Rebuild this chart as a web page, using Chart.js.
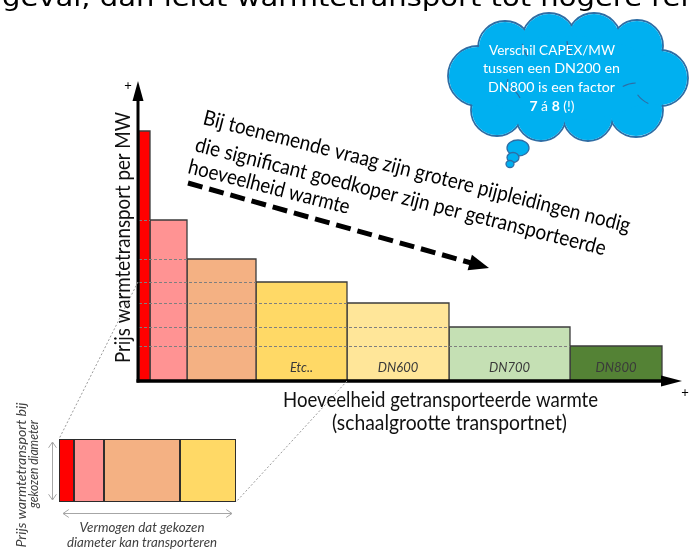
<!DOCTYPE html>
<html>
<head>
<meta charset="utf-8">
<script src="https://cdn.jsdelivr.net/npm/chart.js@4.4.1/dist/chart.umd.min.js"></script>
<style>
  html, body { margin: 0; padding: 0; background: #ffffff; }
  #wrap { position: relative; width: 689px; height: 551px; overflow: hidden; }
  #main { position: absolute; left: 0; top: 0; }
  #inset { position: absolute; left: 57px; top: 437px; }
</style>
</head>
<body>
<div id="wrap">
  <canvas id="main" width="689" height="551"></canvas>
  <canvas id="inset" width="181" height="67"></canvas>
</div>
<script>
// Capacity boundaries of each pipe class along the "amount of heat" axis (relative units)
const capacityEdges = [1, 12, 49, 118, 209, 311, 432, 524];
// Price of heat transport per MW for each pipe class (relative units)
const costPerMW = [250, 161, 122, 99, 78, 54, 35];
// Labels written inside the bars
const barLabels = ['', '', '', 'Etc..', 'DN600', 'DN700', 'DN800'];
const barColors = ['#ff0000', '#ff9393', '#f4b183', '#ffd966', '#ffe699', '#c5e0b4', '#548235'];

// Detail strip: capacity each chosen diameter can transport, at equal price height
const insetWidths = [15, 30, 76, 56];
const insetColors = ['#ff0000', '#ff9393', '#f4b183', '#ffd966'];

const X_MAX = 544;
const Y_MAX = 300;

const LATO = 'Lato, "Open Sans", sans-serif';

// draw text squeezed/stretched to a given width
function fitText(ctx, text, x, y, width, align) {
  const w = ctx.measureText(text).width;
  const s = width / w;
  ctx.save();
  ctx.translate(x, y);
  ctx.scale(s, 1);
  let ox = 0;
  if (align === 'center') ox = -w / 2;
  else if (align === 'right') ox = -w;
  ctx.textAlign = 'left';
  ctx.textBaseline = 'alphabetic';
  ctx.fillText(text, ox, 0);
  ctx.restore();
}

function rotatedText(ctx, text, x, y, angleDeg, width, align) {
  ctx.save();
  ctx.translate(x, y);
  ctx.rotate(angleDeg * Math.PI / 180);
  fitText(ctx, text, 0, 0, width, align);
  ctx.restore();
}

function arrowHead(ctx, tx, ty, ang, len, half) {
  ctx.beginPath();
  ctx.moveTo(tx, ty);
  ctx.lineTo(tx - len * Math.cos(ang) + half * Math.sin(ang), ty - len * Math.sin(ang) - half * Math.cos(ang));
  ctx.lineTo(tx - len * Math.cos(ang) - half * Math.sin(ang), ty - len * Math.sin(ang) + half * Math.cos(ang));
  ctx.closePath();
  ctx.fill();
}

function chevron(ctx, tx, ty, ang, size) {
  ctx.beginPath();
  ctx.moveTo(tx - size * Math.cos(ang - 0.6), ty - size * Math.sin(ang - 0.6));
  ctx.lineTo(tx, ty);
  ctx.lineTo(tx - size * Math.cos(ang + 0.6), ty - size * Math.sin(ang + 0.6));
  ctx.stroke();
}

// each price class as a closed block on the linear scales
const datasets = costPerMW.map((h, i) => ({
  data: [
    { x: capacityEdges[i], y: 0 },
    { x: capacityEdges[i], y: h },
    { x: capacityEdges[i + 1], y: h },
    { x: capacityEdges[i + 1], y: 0 }
  ],
  backgroundColor: barColors[i],
  borderColor: '#3c3c3c',
  borderWidth: 1.3,
  fill: 'origin',
  pointRadius: 0,
  tension: 0
}));

const decorations = {
  id: 'decorations',
  afterDatasetsDraw(chart) {
    const ctx = chart.ctx;
    const xs = chart.scales.x, ys = chart.scales.y;
    const x0 = xs.getPixelForValue(0), y0 = ys.getPixelForValue(0);

    // dotted level lines through the blocks
    ctx.save();
    ctx.strokeStyle = '#7f7f7f';
    ctx.lineWidth = 1;
    ctx.setLineDash([3, 2]);
    for (let i = 1; i < costPerMW.length; i++) {
      const y = Math.round(ys.getPixelForValue(costPerMW[i])) + 0.5;
      ctx.beginPath();
      ctx.moveTo(x0 + 1, y);
      ctx.lineTo(xs.getPixelForValue(capacityEdges[i]), y);
      ctx.stroke();
    }
    ctx.restore();

    // labels at the bottom of the blocks
    ctx.save();
    ctx.fillStyle = '#3a3a3a';
    ctx.font = 'italic 13px ' + LATO;
    ctx.textAlign = 'center';
    ctx.textBaseline = 'alphabetic';
    barLabels.forEach((t, i) => {
      if (!t) return;
      const cx = (xs.getPixelForValue(capacityEdges[i]) + xs.getPixelForValue(capacityEdges[i + 1])) / 2;
      ctx.fillText(t, cx, y0 - 9);
    });
    ctx.restore();

    // axes with arrow heads
    ctx.save();
    ctx.fillStyle = '#000';
    ctx.strokeStyle = '#000';
    ctx.lineWidth = 3;
    const yTop = ys.getPixelForValue(Y_MAX);
    const xEnd = xs.getPixelForValue(X_MAX);
    ctx.beginPath();
    ctx.moveTo(x0, y0 + 1.5);
    ctx.lineTo(x0, yTop + 16);
    ctx.stroke();
    arrowHead(ctx, x0, yTop, -Math.PI / 2, 20, 5.5);
    ctx.lineWidth = 3.5;
    ctx.beginPath();
    ctx.moveTo(x0 - 1.5, y0);
    ctx.lineTo(xEnd - 16, y0);
    ctx.stroke();
    arrowHead(ctx, xEnd, y0, 0, 21, 5.5);
    ctx.font = '13px ' + LATO;
    ctx.textAlign = 'center';
    ctx.textBaseline = 'alphabetic';
    ctx.fillText('+', x0 - 10, yTop + 9);
    ctx.fillText('+', xEnd + 3, y0 + 16);
    ctx.restore();

    // dotted guide lines towards the detail strip
    const ia = insetArea();
    ctx.save();
    ctx.strokeStyle = '#9a9a9a';
    ctx.lineWidth = 1;
    ctx.setLineDash([2, 2]);
    ctx.beginPath();
    ctx.moveTo(x0, ys.getPixelForValue(costPerMW[3]));
    ctx.lineTo(ia.left, ia.top);
    ctx.moveTo(xs.getPixelForValue(capacityEdges[4]), y0);
    ctx.lineTo(ia.right, ia.bottom);
    ctx.stroke();
    ctx.restore();
  },
  afterDraw(chart) {
    const ctx = chart.ctx;
    ctx.save();
    ctx.fillStyle = '#000';
    ctx.textBaseline = 'alphabetic';

    // heading sentence running above
    ctx.font = '24px "DejaVu Sans", sans-serif';
    {
      const head = 'geval, dan leidt warmtetransport tot hogere';
      const w = ctx.measureText(head).width;
      const s = 640 / w;
      ctx.save();
      ctx.translate(2, 6);
      ctx.scale(s, 1);
      ctx.textAlign = 'left';
      ctx.textBaseline = 'alphabetic';
      ctx.fillText(head + ' rendementen', 0, 0);
      ctx.restore();
    }

    // axis titles
    ctx.font = '21px ' + LATO;
    ctx.fillStyle = '#111';
    fitText(ctx, 'Hoeveelheid getransporteerde warmte', 440.5, 407, 315, 'center');
    fitText(ctx, '(schaalgrootte transportnet)', 449.5, 430, 235, 'center');
    rotatedText(ctx, 'Prijs warmtetransport per MW', 130, 237.5, -90, 251, 'center');

    // slanted explanation
    ctx.font = '21px ' + LATO;
    ctx.fillStyle = '#000';
    const ang = 14.3;
    rotatedText(ctx, 'Bij toenemende vraag zijn grotere pijpleidingen nodig', 202, 124, ang, 440, 'left');
    rotatedText(ctx, 'die significant goedkoper zijn per getransporteerde', 194, 151, ang, 423, 'left');
    rotatedText(ctx, 'hoeveelheid warmte', 187, 173, ang, 166, 'left');

    // dashed trend arrow
    {
      const sx = 188, sy = 183, tx = 489, ty = 268;
      const a = Math.atan2(ty - sy, tx - sx);
      ctx.save();
      ctx.strokeStyle = '#000';
      ctx.lineWidth = 5;
      ctx.setLineDash([15, 7]);
      ctx.beginPath();
      ctx.moveTo(sx, sy);
      ctx.lineTo(tx - 16 * Math.cos(a), ty - 16 * Math.sin(a));
      ctx.stroke();
      ctx.setLineDash([]);
      arrowHead(ctx, tx, ty, a, 20, 8);
      ctx.restore();
    }

    // thought cloud
    {
      const bumps = [
        [478, 76, 30], [497, 110, 26], [541, 116, 25], [588, 116, 25],
        [636, 110, 27], [660, 78, 28], [637, 46, 26], [594, 40, 27],
        [549, 40, 27], [505, 48, 27]
      ];
      ctx.save();
      ctx.strokeStyle = '#2e6da4';
      ctx.lineWidth = 1.8;
      bumps.forEach(b => { ctx.beginPath(); ctx.arc(b[0], b[1], b[2], 0, Math.PI * 2); ctx.stroke(); });
      ctx.fillStyle = '#00b0f0';
      bumps.forEach(b => { ctx.beginPath(); ctx.arc(b[0], b[1], b[2] - 0.9, 0, Math.PI * 2); ctx.fill(); });
      ctx.beginPath();
      ctx.ellipse(567, 78, 92, 42, 0, 0, Math.PI * 2);
      ctx.fill();
      // inner fold arcs
      ctx.lineWidth = 1.2;
      [[549, 40, 27, 2.5, 3.0], [594, 40, 27, 2.6, 3.1], [660, 78, 28, 2.0, 2.5], [636, 110, 27, 4.2, 4.7], [497, 110, 26, 5.2, 5.8], [478, 76, 30, 0.1, 0.5]].forEach(c => {
        ctx.beginPath();
        ctx.arc(c[0], c[1], c[2], c[3], c[4]);
        ctx.stroke();
      });
      // small puffs below
      [[518, 148, 11, 8], [513, 157.5, 6, 5], [510, 164, 4, 3.5]].forEach(p => {
        ctx.beginPath();
        ctx.ellipse(p[0], p[1], p[2], p[3], 0, 0, Math.PI * 2);
        ctx.fill();
        ctx.lineWidth = 1.3;
        ctx.stroke();
      });
      ctx.restore();

      ctx.save();
      ctx.fillStyle = '#ffffff';
      ctx.font = '14px ' + LATO;
      fitText(ctx, 'Verschil CAPEX/MW', 552, 55, 126, 'center');
      fitText(ctx, 'tussen een DN200 en', 551.5, 73, 137, 'center');
      fitText(ctx, 'DN800 is een factor', 551.5, 92, 127, 'center');
      // last line with bold numbers
      const parts = [['7', true], [' á ', false], ['8', true], [' (!)', false]];
      let total = 0;
      parts.forEach(p => { ctx.font = (p[1] ? 'bold ' : '') + '14px ' + LATO; p.push(ctx.measureText(p[0]).width); total += p[2]; });
      let px = 552 - total / 2;
      ctx.textAlign = 'left';
      parts.forEach(p => { ctx.font = (p[1] ? 'bold ' : '') + '14px ' + LATO; ctx.fillText(p[0], px, 111); px += p[2]; });
      ctx.restore();
    }

    // captions of the detail strip
    const ia = insetArea();
    ctx.save();
    ctx.fillStyle = '#404040';
    ctx.font = 'italic 13px ' + LATO;
    rotatedText(ctx, 'Prijs warmtetransport bij', 26, 475, -90, 145, 'center');
    rotatedText(ctx, 'gekozen diameter', 38, 464, -90, 88, 'center');
    fitText(ctx, 'Vermogen dat gekozen', 142, 532, 125, 'center');
    fitText(ctx, 'diameter kan transporteren', 142, 547, 150, 'center');

    ctx.strokeStyle = '#a6a6a6';
    ctx.lineWidth = 1;
    ctx.beginPath();
    ctx.moveTo(52.5, ia.top + 3);
    ctx.lineTo(52.5, ia.bottom - 2);
    ctx.moveTo(ia.left + 4, 513.5);
    ctx.lineTo(ia.right - 4, 513.5);
    ctx.stroke();
    chevron(ctx, 52.5, ia.top + 3, -Math.PI / 2, 7);
    chevron(ctx, 52.5, ia.bottom - 2, Math.PI / 2, 7);
    chevron(ctx, ia.left + 4, 513.5, Math.PI, 7);
    chevron(ctx, ia.right - 4, 513.5, 0, 7);
    ctx.restore();

    ctx.restore();
  }
};

// geometry of the detail strip (its canvas sits on top of the main one)
function insetArea() {
  const el = document.getElementById('inset');
  const pad = 2;
  return {
    left: el.offsetLeft + pad,
    top: el.offsetTop + pad,
    right: el.offsetLeft + el.width - pad,
    bottom: el.offsetTop + el.height - pad
  };
}

new Chart(document.getElementById('main'), {
  type: 'line',
  data: { datasets },
  options: {
    responsive: false,
    animation: false,
    devicePixelRatio: 1,
    layout: { padding: { left: 138, right: 7, top: 81, bottom: 170 } },
    plugins: { legend: { display: false }, tooltip: { enabled: false } },
    scales: {
      x: { type: 'linear', display: false, min: 0, max: X_MAX },
      y: { display: false, min: 0, max: Y_MAX }
    }
  },
  plugins: [decorations]
});

new Chart(document.getElementById('inset'), {
  type: 'bar',
  data: {
    labels: [''],
    datasets: insetWidths.map((w, i) => ({
      data: [w],
      backgroundColor: insetColors[i],
      borderColor: '#2b2b2b',
      borderWidth: 1.3,
      borderSkipped: false,
      barPercentage: 1,
      categoryPercentage: 1
    }))
  },
  options: {
    indexAxis: 'y',
    responsive: false,
    animation: false,
    devicePixelRatio: 1,
    layout: { padding: 2 },
    plugins: { legend: { display: false }, tooltip: { enabled: false } },
    scales: {
      x: { stacked: true, display: false, min: 0, max: insetWidths.reduce((a, b) => a + b, 0) },
      y: { stacked: true, display: false }
    }
  }
});
</script>
</body>
</html>
